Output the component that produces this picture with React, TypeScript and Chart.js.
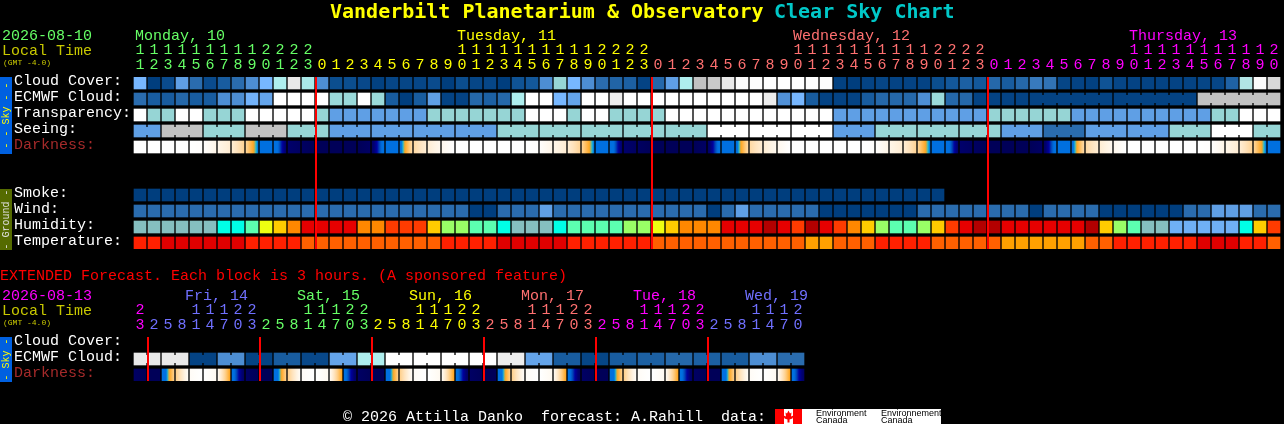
import React, { useEffect, useRef } from 'react';
import { Chart, registerables } from 'chart.js';

Chart.register(...registerables);

// hours of the two forecast tables
const mainHours = [
  11, 12, 13, 14, 15, 16, 17, 18, 19, 20, 21, 22, 23,
  0, 1, 2, 3, 4, 5, 6, 7, 8, 9, 10, 11, 12, 13, 14, 15, 16, 17, 18, 19, 20, 21, 22, 23,
  0, 1, 2, 3, 4, 5, 6, 7, 8, 9, 10, 11, 12, 13, 14, 15, 16, 17, 18, 19, 20, 21, 22, 23,
  0, 1, 2, 3, 4, 5, 6, 7, 8, 9, 10, 11, 12, 13, 14, 15, 16, 17, 18, 19, 20,
];
const extHours = [
  23,
  2, 5, 8, 11, 14, 17, 20, 23,
  2, 5, 8, 11, 14, 17, 20, 23,
  2, 5, 8, 11, 14, 17, 20, 23,
  2, 5, 8, 11, 14, 17, 20, 23,
  2, 5, 8, 11, 14, 17, 20, 23,
  2, 5, 8, 11, 14, 17, 20,
];

// sky rows, 0 = dark blue ... 100 = white
const cloudCover = [
  50, 0, 5, 40, 20, 5, 12, 20, 30, 50, 70, 90, 68, 30, 6, 6, 4, 1, 3, 3, 3,
  5, 0, 6, 3, 3, 0, 8, 10, 30, 60, 50, 30, 20, 16, 14, 2, 18, 40, 70, 80, 82, 90, 98, 99, 100, 100, 100, 99, 99, 1,
  0, 2, 3, 2, 2, 2, 6, 10, 14, 10, 18, 12, 18, 24, 22, 3, 2, 1, 8, 3, 2, 2, 2, 2, 2, 3, 3, 15, 72, 98, 86,
];
const ecmwfCloud = [
  20, 12, 12, 18, 12, 12, 30, 30, 48, 42, 100, 100, 100, 100, 62, 62, 100, 62, 12, 0, 12,
  40, 2, 2, 18, 14, 18, 70, 100, 100, 50, 42, 100, 100, 92, 100, 100, 100, 100, 100, 100, 100, 100, 100, 100, 92, 32, 50, 12, 2, 2,
  2, 12, 18, 18, 18, 30, 62, 18, 18, 2, 2, 2, 2, 2, 2, 2, 2, 2, 2, 2, 2, 2, 2, 2, 2, 80, 80, 80, 80, 80, 80,
];
const ecmwfBlocks = [64, 70, 76]; // first columns of the 6-column model blocks
const transparency = [
  100, 60, 60, 100, 100, 60, 60, 60, 100, 100, 100, 100, 100, 60, 40, 40, 40, 40, 40, 40, 40,
  60, 60, 60, 60, 60, 60, 60, 100, 100, 100, 60, 100, 100, 60, 60, 60, 60, 100, 100, 100, 100, 100, 100, 100, 100, 100, 100, 100, 100, 40,
  40, 40, 40, 40, 40, 40, 40, 40, 40, 40, 60, 60, 60, 60, 60, 60, 40, 40, 40, 40, 40, 40, 40, 40, 40, 40, 60, 60, 100, 100, 100,
];
const seeing = [
  40, 40, 80, 80, 80, 60, 60, 60, 80, 80, 80, 60, 60, 60, 40, 40, 40, 40, 40, 40, 40,
  40, 40, 40, 40, 40, 60, 60, 60, 60, 60, 60, 60, 60, 60, 60, 60, 60, 60, 60, 60, 100, 100, 100, 100, 100, 100, 100, 100, 100, 40,
  40, 40, 60, 60, 60, 60, 60, 60, 60, 60, 60, 40, 40, 40, 20, 20, 20, 40, 40, 40, 40, 40, 40, 60, 60, 60, 100, 100, 100, 60, 60,
];
const seeingBlocks = [0, 2, 5, 8, 11, 14, 17, 20, 23, 26, 29, 32, 35, 38, 41, 44, 47, 50, 53, 56, 59, 62, 65, 68, 71, 74, 77, 80];

// darkness at the left edge of each column (plus one closing value), 0 = daylight, 10 = full dark
const darkness = [
  0, 0, 0, 0, 0, 0.1, 0.8, 1.4, 2.8, 5.6, 6, 9.2, 9.6, 10, 10, 10, 10, 9.5, 6.4, 6, 2.5, 1.4, 0.6,
  0, 0, 0, 0, 0, 0, 0.1, 0.8, 1.4, 2.8, 5.6, 6, 9.2, 9.6, 10, 10, 10, 10, 9.5, 6.4, 6, 2.5, 1.4, 0.6,
  0, 0, 0, 0, 0, 0, 0.1, 0.8, 1.4, 2.8, 5.6, 6, 9.2, 9.6, 10, 10, 10, 10, 9.5, 6.4, 6, 2.5, 1.4, 0.6,
  0, 0, 0, 0, 0, 0, 0.1, 0.8, 1.4, 2.8, 5.6, 6,
];

// ground rows
const smoke = [
  0, 0, 0, 0, 0, 0, 0, 0, 0, 0, 0, 0, 0, 0, 0, 0, 0, 0, 0, 0, 0,
  0, 0, 0, 0, 0, 0, 0, 0, 0, 0, 0, 0, 0, 0, 0, 0, 0, 0, 0, 0, 0, 0, 0, 0, 0, 0, 0, 0, 0, 0,
  0, 0, 0, 0, 0, 0, 0,
];
const wind = [
  20, 20, 20, 20, 20, 20, 20, 20, 20, 20, 20, 20, 20, 20, 20, 20, 20, 20, 20, 20, 20,
  20, 20, 20, 0, 0, 20, 20, 20, 40, 20, 20, 20, 20, 20, 20, 20, 20, 20, 20, 20, 0, 20, 40, 20, 20, 20, 20, 20, 0, 0,
  0, 0, 0, 0, 0, 20, 20, 20, 20, 20, 20, 20, 20, 0, 20, 20, 20, 20, 0, 0, 0, 0, 0, 0, 20, 20, 40, 40, 40, 20, 20,
];
const humidity = [
  40, 40, 40, 40, 40, 40, 45, 45, 50, 60, 65, 70, 90, 90, 90, 90, 70, 70, 80, 80, 80,
  65, 55, 55, 50, 50, 45, 40, 40, 40, 45, 50, 50, 50, 50, 55, 55, 60, 65, 70, 70, 70, 90, 90, 90, 100, 90, 80, 100, 90, 80,
  70, 65, 55, 50, 50, 55, 65, 80, 90, 100, 100, 90, 90, 90, 90, 90, 90, 100, 65, 55, 50, 40, 40, 30, 30, 30, 30, 30, 45, 65, 80,
];
const temperature = [
  24, 24, 27, 27, 27, 27, 27, 27, 24, 24, 24, 24, 21, 21, 21, 21, 21, 21, 21, 21, 21,
  21, 24, 24, 24, 24, 27, 27, 27, 27, 27, 24, 24, 24, 24, 24, 24, 21, 21, 21, 21, 21, 21, 21, 21, 21, 21, 21, 18, 18, 21,
  21, 21, 24, 24, 24, 24, 21, 21, 21, 21, 21, 18, 18, 18, 18, 18, 18, 21, 21, 24, 24, 24, 24, 24, 24, 27, 27, 27, 24, 24, 21,
];

// extended forecast, 3 hours a column
const extEcmwf = [
  90, 90, 90, 90, 2, 2, 30, 30, 2, 2, 12, 12, 4, 4, 42, 42, 70, 70, 100, 100, 100, 100, 100, 100,
  100, 100, 92, 92, 42, 42, 12, 12, 3, 3, 12, 12, 14, 14, 18, 18, 14, 14, 12, 12, 30, 30, 20, 20,
];
const extBlocks = [0, 2, 4, 6, 8, 10, 12, 14, 16, 18, 20, 22, 24, 26, 28, 30, 32, 34, 36, 38, 40, 42, 44, 46];
// a column spans 3 hours, so it has its own start and end darkness
const extDarknessStart = [
  9.5, 10, 7, 3, 0.3, 0, 0.5, 6.4,
  9.5, 10, 7, 3, 0.3, 0, 0.5, 6.4,
  9.5, 10, 7, 3, 0.3, 0, 0.5, 6.4,
  9.5, 10, 7, 3, 0.3, 0, 0.5, 6.4,
  9.5, 10, 7, 3, 0.3, 0, 0.5, 6.4,
  9.5, 10, 7, 3, 0.3, 0, 0.5, 6.4,
];
const extDarknessEnd = [
  10, 10, 3, 0.3, 0, 0.5, 4.6, 9.5,
  10, 10, 3, 0.3, 0, 0.5, 4.6, 9.5,
  10, 10, 3, 0.3, 0, 0.5, 4.6, 9.5,
  10, 10, 3, 0.3, 0, 0.5, 4.6, 9.5,
  10, 10, 3, 0.3, 0, 0.5, 4.6, 9.5,
  10, 10, 3, 0.3, 0, 0.5, 4.6, 9.5,
];

const mainMidnights = [13, 37, 61];
const extMidnights = [1, 9, 17, 25, 33, 41];
const mainDays = [
  { label: 'Monday, 10', col: 0, color: '#66ff66' },
  { label: 'Tuesday, 11', col: 23, color: '#ffff00' },
  { label: 'Wednesday, 12', col: 47, color: '#ff7070' },
  { label: 'Thursday, 13', col: 71, color: '#ff00ff' },
];
const extDays = [
  { label: 'Fri, 14', col: 4, color: '#7070ff' },
  { label: 'Sat, 15', col: 12, color: '#66ff66' },
  { label: 'Sun, 16', col: 20, color: '#ffff00' },
  { label: 'Mon, 17', col: 28, color: '#ff7070' },
  { label: 'Tue, 18', col: 36, color: '#ff00ff' },
  { label: 'Wed, 19', col: 44, color: '#7070ff' },
];
const mainDayColors = ['#66ff66', '#ffff00', '#ff7070', '#ff00ff'];
const extDayColors = ['#ff00ff', '#7070ff', '#66ff66', '#ffff00', '#ff7070', '#ff00ff', '#7070ff'];

const MONO = '"Liberation Mono", monospace';
const SANS = '"Liberation Sans", sans-serif';

const skyStops: [number, string][] = [
  [0, '#003e7e'], [10, '#13589b'], [20, '#2a6cae'], [30, '#4d8ed3'], [40, '#5f9fe5'], [50, '#77b7ff'],
  [60, '#96d5d5'], [70, '#aeeeee'], [80, '#c2c2c2'], [90, '#e9e9e9'], [100, '#ffffff'],
];
const darkStops: [number, string][] = [
  [0, '#ffffff'], [1, '#fff3e2'], [2, '#ffe3bd'], [3, '#ffd08c'], [4.6, '#ffa51e'], [5.2, '#10c0e0'],
  [5.5, '#0070e0'], [7, '#0070e0'], [7.6, '#0048b8'], [8.2, '#0000a0'], [9, '#000070'], [10, '#000058'],
];
const humidityColors: Record<number, string> = {
  30: '#6fb0f5', 40: '#85bfc0', 45: '#00ffe6', 50: '#5cffb0', 55: '#99ff66', 60: '#eeff11',
  65: '#ffcc00', 70: '#ff8800', 80: '#ff3b00', 90: '#e60000', 100: '#b30000',
};
const temperatureColors: Record<number, string> = {
  18: '#ffa000', 21: '#ff6000', 24: '#ff2000', 27: '#e00000',
};

const hexRgb = (hex: string) => [1, 3, 5].map(i => parseInt(hex.slice(i, i + 2), 16));

function rampColor(stops: [number, string][], v: number) {
  for (let i = 1; i < stops.length; i++) {
    if (v <= stops[i][0]) {
      const t = (v - stops[i - 1][0]) / (stops[i][0] - stops[i - 1][0]);
      const a = hexRgb(stops[i - 1][1]);
      const b = hexRgb(stops[i][1]);
      return `rgb(${a.map((c, k) => Math.round(c + (b[k] - c) * t)).join(',')})`;
    }
  }
  return stops[stops.length - 1][1];
}
const skyColor = (v: number) => rampColor(skyStops, v);

// each darkness cell is a small left to right ramp between its two edge values
const darknessFill = (from: number[], to: number[]) => (ctx: any) => {
  if (ctx.dataIndex === undefined) return '#000';
  const i = ctx.dataIndex;
  const x = ctx.chart.scales.x.getPixelForValue(i);
  if (!Number.isFinite(x)) return '#000';
  const g = ctx.chart.ctx.createLinearGradient(x - 6, 0, x + 6, 0);
  for (let s = 0; s <= 12; s++) {
    g.addColorStop(s / 12, rampColor(darkStops, from[i] + (to[i] - from[i]) * (s / 12)));
  }
  return g;
};

type Row = {
  label: string;
  row: number;
  color?: string;
  values?: number[];
  fill?: (v: number) => string;
  from?: number[];
  to?: number[];
  blocks?: number[];
};

const CELL = 0.75; // 12px cell in a 16px row

const mainRows: Row[] = [
  { label: 'Cloud Cover:', row: 0, values: cloudCover, fill: skyColor },
  { label: 'ECMWF Cloud:', row: 1, values: ecmwfCloud, fill: skyColor, blocks: ecmwfBlocks },
  { label: 'Transparency:', row: 2, values: transparency, fill: skyColor },
  { label: 'Seeing:', row: 3, values: seeing, fill: skyColor, blocks: seeingBlocks },
  { label: 'Darkness:', row: 4, color: '#a52a2a', from: darkness.slice(0, -1), to: darkness.slice(1) },
  { label: 'Smoke:', row: 7, values: smoke, fill: skyColor },
  { label: 'Wind:', row: 8, values: wind, fill: skyColor },
  { label: 'Humidity:', row: 9, values: humidity, fill: v => humidityColors[v] },
  { label: 'Temperature:', row: 10, values: temperature, fill: v => temperatureColors[v] },
];
const extRows: Row[] = [
  { label: 'Cloud Cover:', row: 0 },
  { label: 'ECMWF Cloud:', row: 1, values: extEcmwf, fill: skyColor, blocks: extBlocks },
  { label: 'Darkness:', row: 2, color: '#a52a2a', from: extDarknessStart, to: extDarknessEnd },
];

function text(c: CanvasRenderingContext2D, s: string, x: number, y: number, color: string, font: string) {
  c.fillStyle = color;
  c.font = font;
  c.fillText(s, x, y);
}

function band(c: CanvasRenderingContext2D, top: number, bottom: number, fill: string, label: string, color: string) {
  c.fillStyle = fill;
  c.fillRect(0, top, 12, bottom - top);
  c.save();
  c.translate(9, (top + bottom) / 2);
  c.rotate(-Math.PI / 2);
  c.textAlign = 'center';
  text(c, label, 0, 0, color, `10px ${MONO}`);
  c.restore();
}

function drawLogo(c: CanvasRenderingContext2D) {
  c.fillStyle = '#ffffff';
  c.fillRect(775, 149, 166, 15);
  c.fillStyle = '#ff0000';
  c.fillRect(775, 149, 9, 15);
  c.fillRect(793, 149, 9, 15);
  // maple leaf
  c.beginPath();
  const leaf = [[0, -6], [1.5, -3], [3, -4], [2.5, 0], [5, -1], [4, 2], [1, 3], [1, 6], [-1, 6], [-1, 3], [-4, 2], [-5, -1], [-2.5, 0], [-3, -4], [-1.5, -3]];
  leaf.forEach(([x, y], i) => (i ? c.lineTo(788.5 + x, 156.5 + y) : c.moveTo(788.5 + x, 156.5 + y)));
  c.closePath();
  c.fill();
  text(c, 'Environment', 816, 156, '#000000', `9px ${SANS}`);
  text(c, 'Canada', 816, 163, '#000000', `9px ${SANS}`);
  text(c, 'Environnement', 881, 156, '#000000', `9px ${SANS}`);
  text(c, 'Canada', 881, 163, '#000000', `9px ${SANS}`);
}

// everything that is not a cell: block joins, midnight lines, headers, side bands
function sheetPlugin(rows: Row[], midnights: number[], days: typeof mainDays, dayShift: number, drawExtra: (c: CanvasRenderingContext2D) => void) {
  return {
    id: 'sheet',
    afterDatasetsDraw(chart: any) {
      const c: CanvasRenderingContext2D = chart.ctx;
      const { x, y } = chart.scales;
      const { top, bottom } = chart.chartArea;

      rows.forEach(r => {
        if (!r.blocks || !r.values) return;
        r.blocks.forEach((start, b) => {
          const end = b + 1 < r.blocks!.length ? r.blocks![b + 1] : r.values!.length;
          for (let col = start; col < end - 1; col++) {
            c.fillStyle = r.fill!(r.values![col]);
            c.fillRect(x.getPixelForValue(col) + 6, y.getPixelForValue(r.row) + 2, 2, 8);
          }
        });
      });

      midnights.forEach(col => {
        c.fillStyle = '#ff0000';
        c.fillRect(x.getPixelForValue(col) - 7, top, 2, bottom - top);
      });

      days.forEach(d => text(c, d.label, x.getPixelForValue(d.col) - 6 + dayShift, 40, d.color, `15px ${MONO}`));
      drawExtra(c);
    },
  };
}

function makeChart(canvas: HTMLCanvasElement, rows: Row[], hours: number[], rowCount: number, bottomPad: number, rightPad: number, hourColor: (i: number) => string, plugin: any) {
  const datasets = rows.filter(r => r.values || r.from).map(r => {
    const source = r.from || r.values!;
    return {
      label: r.label,
      data: source.map(() => [r.row, r.row + CELL]),
      backgroundColor: r.from ? darknessFill(r.from, r.to!) : source.map(r.fill!),
      barThickness: 12,
      borderWidth: 0,
      borderSkipped: false,
      grouped: false,
    };
  });

  return new Chart(canvas, {
    type: 'bar',
    data: { labels: hours.map(String), datasets: datasets as any },
    options: {
      animation: false,
      responsive: false,
      layout: { padding: { left: 14, right: rightPad, top: 0, bottom: bottomPad } },
      plugins: { legend: { display: false }, title: { display: false }, tooltip: { enabled: false } },
      scales: {
        x: {
          type: 'category',
          position: 'top',
          stacked: false,
          afterFit: (s: any) => { s.height = 77; },
          grid: { display: false },
          border: { display: false },
          ticks: {
            autoSkip: false,
            maxRotation: 0,
            padding: -4,
            font: { family: MONO, size: 15, lineHeight: '15px' as any },
            color: (ctx: any) => hourColor(ctx.index),
            callback: (_v: any, i: number) => [hours[i] >= 10 ? String(hours[i])[0] : '', String(hours[i] % 10)],
          },
        },
        y: {
          type: 'linear',
          reverse: true,
          min: 0,
          max: rowCount - 1 + CELL,
          afterFit: (s: any) => { s.width = 119; },
          afterBuildTicks: (s: any) => { s.ticks = rows.map(r => ({ value: r.row + 0.25 })); },
          grid: { display: false },
          border: { display: false },
          ticks: {
            autoSkip: false,
            crossAlign: 'far',
            padding: 0,
            font: { family: MONO, size: 15 },
            color: (ctx: any) => rows[ctx.index]?.color || '#ffffff',
            callback: (_v: any, i: number) => rows[i].label,
          },
        },
      },
    },
    plugins: [plugin],
  } as any);
}

const App: React.FC = () => {
  const mainRef = useRef<HTMLCanvasElement>(null);
  const extRef = useRef<HTMLCanvasElement>(null);

  useEffect(() => {
    if (!mainRef.current || !extRef.current) return;

    const mainDayIndex = (i: number) => (i < 13 ? 0 : i < 37 ? 1 : i < 61 ? 2 : 3);
    const extDayIndex = (i: number) => (i < 1 ? 0 : Math.floor((i - 1) / 8) + 1);

    const mainChart = makeChart(
      mainRef.current, mainRows, mainHours, 11, 11, 3,
      i => mainDayColors[mainDayIndex(i)],
      sheetPlugin(mainRows, mainMidnights, mainDays, 1, c => {
        text(c, 'Vanderbilt Planetarium & Observatory', 330, 18, '#ffff00', `bold 20px "DejaVu Sans Mono", monospace`);
        text(c, 'Clear Sky Chart', 774, 18, '#00c8c8', `bold 20px "DejaVu Sans Mono", monospace`);
        text(c, '2026-08-10', 2, 40, '#66ff66', `15px ${MONO}`);
        text(c, 'Local Time', 2, 55, '#c8c800', `15px ${MONO}`);
        text(c, '(GMT -4.0)', 3, 65, '#c8c800', `8px ${MONO}`);
        band(c, 77, 154, '#0060e0', '- - Sky - -', '#ffff00');
        band(c, 189, 250, '#556b00', '- Ground -', '#e0e0e0');
      }),
    );

    const extChart = makeChart(
      extRef.current, extRows, extHours, 3, 43, 479,
      i => extDayColors[extDayIndex(i)],
      sheetPlugin(extRows, extMidnights, extDays, -5, c => {
        text(c, 'EXTENDED Forecast. Each block is 3 hours. (A sponsored feature)', 0, 20, '#ff0000', `15px ${MONO}`);
        text(c, '2026-08-13', 2, 40, '#ff00ff', `15px ${MONO}`);
        text(c, 'Local Time', 2, 55, '#c8c800', `15px ${MONO}`);
        text(c, '(GMT -4.0)', 3, 65, '#c8c800', `8px ${MONO}`);
        band(c, 77, 122, '#0060e0', '- Sky -', '#ffff00');
        text(c, '\u00a9 2026 Attilla Danko  forecast: A.Rahill  data:', 343, 161, '#ffffff', `15px ${MONO}`);
        drawLogo(c);
      }),
    );

    return () => {
      mainChart.destroy();
      extChart.destroy();
    };
  }, []);

  return (
    <div style={{ position: 'fixed', left: 0, top: 0, width: 1284, height: 424, background: '#000', overflow: 'hidden' }}>
      <canvas ref={mainRef} width={1284} height={260} style={{ position: 'absolute', left: 0, top: 0 }} />
      <canvas ref={extRef} width={1284} height={164} style={{ position: 'absolute', left: 0, top: 260 }} />
    </div>
  );
};

export default App;
